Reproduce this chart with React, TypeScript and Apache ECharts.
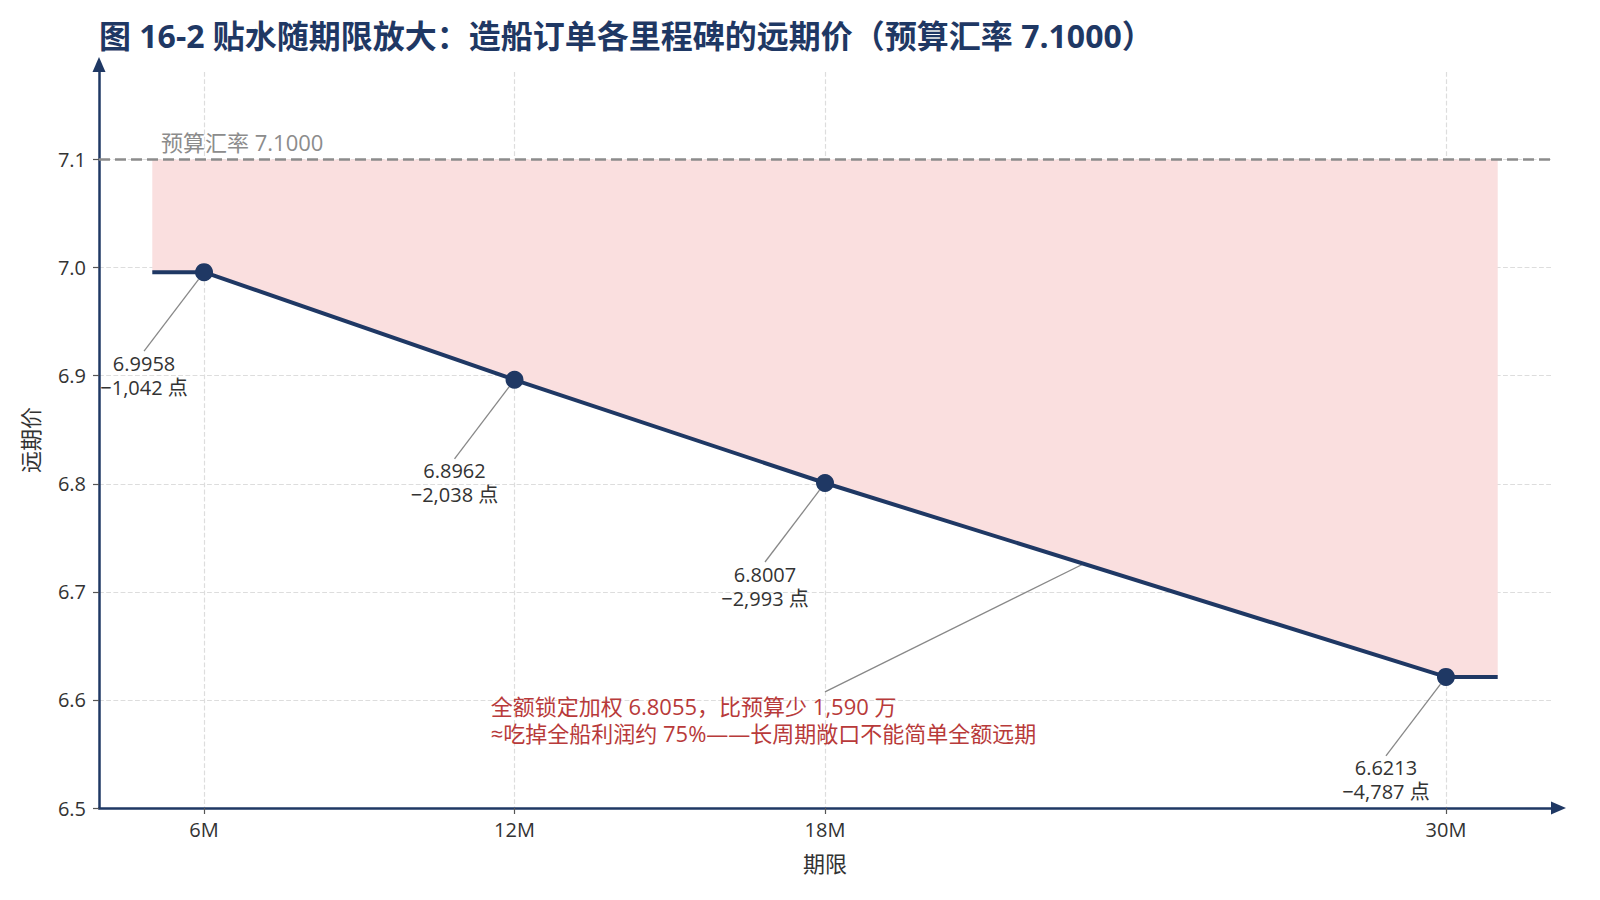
import React, { useEffect, useRef } from 'react';
import * as echarts from 'echarts';

// 期限（月）与远期价
const tenorMonths = [6, 12, 18, 30];
const forwardRates = [6.9958, 6.8962, 6.8007, 6.6213];
const discountPoints = ['−1,042', '−2,038', '−2,993', '−4,787'];
const budgetRate = 7.1;
// 台阶延伸的起止月份
const stepStart = 5;
const stepEnd = 31;
const yTicks = [6.5, 6.6, 6.7, 6.8, 6.9, 7.0, 7.1];

// 注释文字与引线（数据坐标）
const noteAnchor = [11.53, 6.5818];
const noteLineFrom = [18, 6.6075];
const noteLineTo = [23, 6.726];
const noteText = '全额锁定加权 6.8055，比预算少 1,590 万\n≈吃掉全船利润约 75%——长周期敞口不能简单全额远期';

const NAVY = '#1f3864';
const FONT = '"Open Sans", "Noto Sans CJK SC", sans-serif';

const W = 1600;
const H = 900;
const GRID = { left: 99, right: 49, top: 72, bottom: 92 };
const ARROW_LEN = 15;
const ARROW_HALF = 6.5;

const App: React.FC = () => {
  const chartRef = useRef<HTMLDivElement>(null);

  useEffect(() => {
    const myChart = echarts.init(chartRef.current!, null, { renderer: 'svg' });

    const xs = [stepStart, ...tenorMonths, stepEnd];
    const ys = [forwardRates[0], ...forwardRates, forwardRates[forwardRates.length - 1]];

    const axisY = H - GRID.bottom;
    const axisXEnd = W - GRID.right;

    const option = {
      animation: false,
      textStyle: { fontFamily: FONT },
      title: {
        text: '图 16-2 贴水随期限放大：造船订单各里程碑的远期价（预算汇率 7.1000）',
        left: 94,
        top: 14,
        textStyle: { fontSize: 32, fontWeight: 'bold', color: NAVY, fontFamily: FONT },
      },
      grid: GRID,
      // 坐标轴末端箭头
      graphic: [
        {
          type: 'polygon',
          silent: true,
          shape: {
            points: [
              [axisXEnd + ARROW_LEN, axisY],
              [axisXEnd, axisY - ARROW_HALF],
              [axisXEnd, axisY + ARROW_HALF],
            ],
          },
          style: { fill: NAVY },
        },
        {
          type: 'polygon',
          silent: true,
          shape: {
            points: [
              [GRID.left, GRID.top - ARROW_LEN],
              [GRID.left - ARROW_HALF, GRID.top],
              [GRID.left + ARROW_HALF, GRID.top],
            ],
          },
          style: { fill: NAVY },
        },
      ],
      xAxis: {
        type: 'value',
        min: 3.97,
        max: 32.03,
        name: '期限',
        nameLocation: 'middle',
        nameGap: 44,
        nameTextStyle: { fontSize: 22, color: '#333' },
        axisLine: { show: true, lineStyle: { color: NAVY, width: 2.5 } },
        axisTick: { show: true, customValues: tenorMonths, length: 6, lineStyle: { color: '#555', width: 1.2 } },
        axisLabel: {
          customValues: tenorMonths,
          formatter: (v: number) => `${v}M`,
          fontSize: 20,
          color: '#333',
          margin: 11,
        },
        splitLine: { show: true, lineStyle: { color: '#dddddd', type: 'dashed', width: 1.2 } },
      },
      yAxis: {
        type: 'value',
        min: 6.5,
        max: 7.181,
        name: '远期价',
        nameLocation: 'middle',
        nameGap: 58,
        nameTextStyle: { fontSize: 22, color: '#333' },
        axisLine: { show: true, lineStyle: { color: NAVY, width: 2.5 } },
        axisTick: { show: true, customValues: yTicks, length: 6, lineStyle: { color: '#555', width: 1.2 } },
        axisLabel: {
          customValues: yTicks,
          formatter: (v: number) => v.toFixed(1),
          fontSize: 20,
          color: '#333',
          margin: 13,
        },
        splitLine: { show: true, lineStyle: { color: '#dddddd', type: 'dashed', width: 1.2 } },
      },
      series: [
        {
          name: 'base',
          type: 'line',
          stack: 'gap',
          encode: { x: 1, y: 0 },
          data: xs.map((x, i) => [ys[i], x]),
          symbol: 'none',
          lineStyle: { opacity: 0 },
          silent: true,
          z: 1,
        },
        {
          name: 'gap',
          type: 'line',
          stack: 'gap',
          encode: { x: 1, y: 0 },
          data: xs.map((x, i) => [budgetRate - ys[i], x]),
          symbol: 'none',
          lineStyle: { opacity: 0 },
          areaStyle: { color: '#fadfdf', opacity: 1 },
          silent: true,
          z: 1,
        },
        {
          name: 'forward',
          type: 'line',
          data: xs.map((x, i) => {
            const k = tenorMonths.indexOf(x);
            if (k < 0) {
              return { value: [x, ys[i]], symbol: 'none', label: { show: false } };
            }
            return { value: [x, ys[i]], label: { formatter: `${forwardRates[k].toFixed(4)}\n${discountPoints[k]} 点` } };
          }),
          symbol: 'circle',
          symbolSize: 18,
          itemStyle: { color: NAVY },
          lineStyle: { color: NAVY, width: 4 },
          z: 5,
          label: {
            show: true,
            position: 'inside',
            fontSize: 20,
            lineHeight: 24,
            color: '#333',
            align: 'center',
          },
          labelLayout: { dx: -60, dy: 103 },
          labelLine: { show: true, lineStyle: { color: '#888', width: 1.3 } },
          markLine: {
            silent: true,
            symbol: 'none',
            lineStyle: { color: '#8c8c8c', type: [11, 5], width: 2.5 },
            label: {
              show: true,
              position: 'insideStartTop',
              formatter: '预算汇率 7.1000',
              color: '#8c8c8c',
              fontSize: 22,
              padding: [0, 0, 0, 55],
              distance: 7,
            },
            data: [
              { yAxis: budgetRate },
              [
                { coord: noteLineFrom, lineStyle: { color: '#888', type: 'solid', width: 1.3 }, label: { show: false } },
                { coord: noteLineTo },
              ],
            ],
          },
          markPoint: {
            silent: true,
            symbol: 'circle',
            symbolSize: 1,
            itemStyle: { color: 'rgba(0,0,0,0)' },
            data: [
              {
                coord: noteAnchor,
                label: {
                  show: true,
                  position: 'right',
                  distance: 0,
                  align: 'left',
                  formatter: noteText,
                  color: '#b83a3a',
                  fontSize: 22,
                  lineHeight: 27,
                },
              },
            ],
          },
        },
      ],
    };

    myChart.setOption(option);

    return () => {
      myChart.dispose();
    };
  }, []);

  return (
    <div
      ref={chartRef}
      style={{ position: 'fixed', left: 0, top: 0, width: `${W}px`, height: `${H}px`, background: '#fff' }}
    />
  );
};

export default App;
